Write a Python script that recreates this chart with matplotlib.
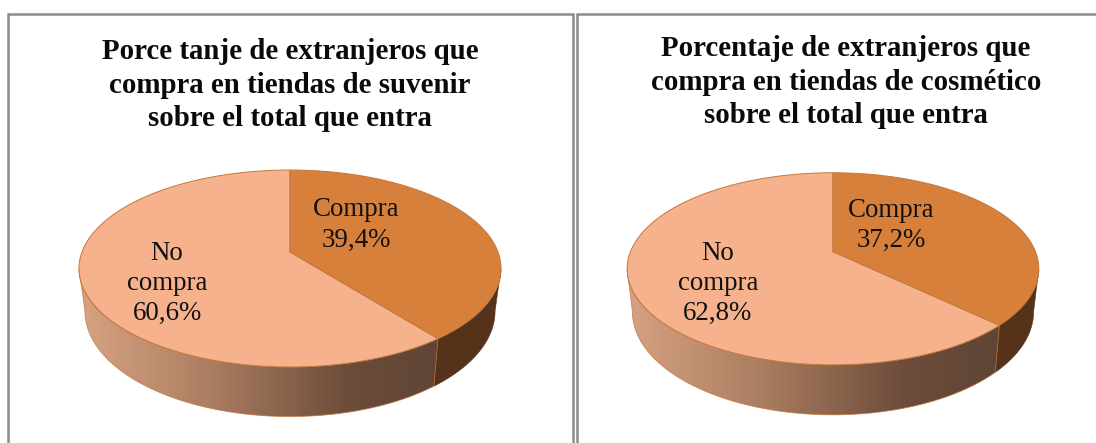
import numpy as np
import matplotlib
matplotlib.use("Agg")
import matplotlib.pyplot as plt
from matplotlib.patches import Polygon
from matplotlib.colors import LinearSegmentedColormap

categories = ["Compra", "No\ncompra"]
souvenir_values = [39.4, 60.6]
cosmetic_values = [37.2, 62.8]
title_souvenir = "Porce tanje de extranjeros que\ncompra en tiendas de suvenir\nsobre el total que entra"
title_cosmetic = "Porcentaje de extranjeros que\ncompra en tiendas de cosmético\nsobre el total que entra"

C_BUY, C_NOT, C_BUY_SIDE, C_EDGE = "#D7803C", "#F5B28C", "#55321A", "#C4773C"
side_cmap = LinearSegmentedColormap.from_list(
    "side", [(0, "#D8A484"), (0.35, "#AE8063"), (0.75, "#6C4C3A"), (1, "#5F4535")])

fig = plt.figure(figsize=(10.96, 4.43), dpi=100, facecolor="white")
ax = fig.add_axes([0, 0, 1, 1])
ax.axis("off")


def draw_pie(values, title, cx, cy, sx, sy, k, bottom_cy, bottom_ry_scale, bottom_rx_scale,
             title_xy, label_pos):
    def top(t):
        X, Y = np.sin(t), np.cos(t)
        d = 1 + k * Y
        return cx + sx * X / d, cy - sy * Y / d

    ell_cy = (top(0.0)[1] + top(np.pi)[1]) / 2

    def bottom(t):
        x, y = top(t)
        return cx + bottom_rx_scale * (x - cx), bottom_cy + bottom_ry_scale * (y - ell_cy)

    split = 2 * np.pi * values[0] / sum(values)
    t_right = np.arccos(-k)
    t_left = 2 * np.pi - t_right

    def side_poly(t0, t1):
        t = np.linspace(t0, t1, 200)
        return np.vstack([np.column_stack(top(t)), np.column_stack(bottom(t[::-1]))])

    # side walls
    p = Polygon(side_poly(split, t_left), closed=True, fc="none", ec=C_EDGE, lw=0.6, alpha=0.8, zorder=3)
    ax.add_patch(p)
    grad = np.linspace(0, 1, 256).reshape(1, -1)
    x0, x1 = cx - 215, top(split)[0] + 2
    im = ax.imshow(grad, extent=[x0, x1, 443, 150], cmap=side_cmap, aspect="auto", zorder=2)
    im.set_clip_path(p)
    ax.add_patch(Polygon(side_poly(t_right, split), closed=True, fc=C_BUY_SIDE, ec=C_BUY_SIDE,
                         lw=0.4, zorder=2.5))

    # top face
    t = np.linspace(0, split, 300)
    buy = np.vstack([[cx, cy], np.column_stack(top(t))])
    t = np.linspace(split, 2 * np.pi, 400)
    no = np.vstack([[cx, cy], np.column_stack(top(t))])
    ax.add_patch(Polygon(no, closed=True, fc=C_NOT, ec=C_EDGE, lw=0.7, zorder=4))
    ax.add_patch(Polygon(buy, closed=True, fc=C_BUY, ec=C_EDGE, lw=0.7, zorder=4))

    # labels
    for cat, val, (lx, ly) in zip(categories, values, label_pos):
        s = f"{cat}\n{val:.1f}%".replace(".", ",")
        ax.text(lx, ly, s, ha="center", va="center", family="Liberation Serif", fontsize=19.4,
                linespacing=1.27, color="#111111", zorder=5)
    ax.text(title_xy[0], title_xy[1], title, ha="center", va="center", family="Liberation Serif",
            fontweight="bold", fontsize=20.8, linespacing=1.3, color="#0A0A0A", zorder=5)


draw_pie(souvenir_values, title_souvenir, 290, 252, 208, 95.7, 0.1675, 311, 1.072, 0.972,
         (290, 85), [(356.5, 225), (167, 283.5)])
draw_pie(cosmetic_values, title_cosmetic, 833, 251.7, 202.5, 93, 0.178, 311.6, 1.075, 0.975,
         (846, 82), [(891, 225.5), (718, 283.5)])

# panel frames
frame = "#8C8C8C"
for xs, ys in [([7.5, 7.5, 573, 573], [443, 14, 14, 443]),
               ([1096, 576.5, 576.5], [14, 14, 443])]:
    ax.plot(xs, ys, color=frame, lw=1.8, solid_joinstyle="miter", zorder=6)

ax.set_xlim(0, 1096)
ax.set_ylim(443, 0)
fig.savefig("out.png", dpi=100, facecolor="white")
